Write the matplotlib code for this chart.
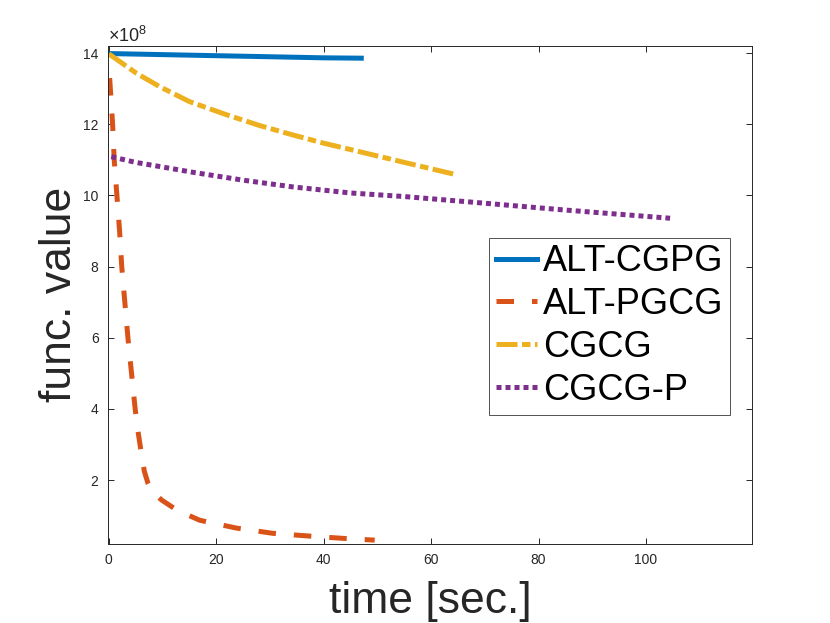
import matplotlib
matplotlib.use("Agg")
import matplotlib.pyplot as plt
from matplotlib.ticker import ScalarFormatter

plt.rcParams['font.family'] = ['Liberation Sans', 'DejaVu Sans']
plt.rcParams['mathtext.fontset'] = 'custom'
plt.rcParams['mathtext.rm'] = 'Liberation Sans'
plt.rcParams['mathtext.it'] = 'Liberation Sans:italic'

# data (time in sec., function value)
t_altcgpg = [0, 10, 20, 30, 40, 47]
v_altcgpg = [13.99e8, 13.96e8, 13.93e8, 13.90e8, 13.87e8, 13.86e8]

t_altpgcg = [0.15, 0.7, 1.0, 1.5, 2.0, 2.4, 3.55, 4.9, 5.5, 6.0, 6.6, 7.3, 8.0,
             9.8, 12.6, 16.9, 23.7, 30.6, 36.8, 43.6, 49.5]
v_altpgcg = [13.3e8, 12.0e8, 11.0e8, 10.0e8, 9.0e8, 8.0e8, 6.0e8, 4.0e8, 3.3e8,
             2.8e8, 2.25e8, 1.9e8, 1.70e8, 1.44e8, 1.16e8, 0.87e8, 0.65e8,
             0.50e8, 0.43e8, 0.36e8, 0.31e8]

t_cgcg = [0, 5.1, 9.45, 15, 21.9, 28, 34.3, 40, 46.7, 55, 64.8]
v_cgcg = [13.98e8, 13.44e8, 13.06e8, 12.64e8, 12.27e8, 11.97e8, 11.70e8,
          11.47e8, 11.23e8, 10.93e8, 10.58e8]

t_cgcgp = [0.45, 5, 10, 15.7, 25, 34.3, 45, 55, 67, 85, 104.5]
v_cgcgp = [11.09e8, 10.93e8, 10.80e8, 10.65e8, 10.43e8, 10.24e8, 10.07e8,
           9.97e8, 9.82e8, 9.59e8, 9.36e8]

labels = ['ALT-CGPG', 'ALT-PGCG', 'CGCG', 'CGCG-P']
x_ticks = [0, 20, 40, 60, 80, 100]
y_ticks = [2e8, 4e8, 6e8, 8e8, 10e8, 12e8, 14e8]


class Fixed8Formatter(ScalarFormatter):
    def _set_order_of_magnitude(self):
        self.orderOfMagnitude = 8

    def _set_format(self):
        self.format = '%d'


fig = plt.figure(figsize=(8.3, 6.23), dpi=100)
ax = fig.add_axes([0.1305, 0.1273, 0.7752, 0.7993])

lw = 3.6
ax.plot(t_altcgpg, v_altcgpg, color='#0072BD', lw=lw, linestyle='-', label=labels[0])
ax.plot(t_altpgcg, v_altpgcg, color='#D95319', lw=lw, linestyle=(0, (3.5, 3.6)), label=labels[1])
ax.plot(t_cgcg, v_cgcg, color='#EDB120', lw=lw, linestyle=(0, (4.2, 0.9, 1.7, 0.9)), label=labels[2])
ax.plot(t_cgcgp, v_cgcgp, color='#7E2F8E', lw=lw, linestyle=(0, (1.0, 0.8)), label=labels[3])

ax.set_xlim(-0.1, 119.7)
ax.set_ylim(0.21e8, 14.21e8)
ax.set_xticks(x_ticks)
ax.set_yticks(y_ticks)

fmt = Fixed8Formatter(useMathText=True)
ax.yaxis.set_major_formatter(fmt)
ax.yaxis.get_offset_text().set_fontsize(13)
ax.yaxis.get_offset_text().set_color('#262626')

ax.tick_params(direction='in', length=4.5, width=0.7, colors='#262626',
               labelsize=10, top=True, right=True, pad=7)
for s in ax.spines.values():
    s.set_color('#262626')
    s.set_linewidth(0.7)

ax.set_xlabel('time [sec.]', fontsize=32, color='#262626', labelpad=10)
ax.set_ylabel('func. value', fontsize=32, color='#262626', labelpad=2)

leg = ax.legend(loc='upper left', bbox_to_anchor=(0.5922, 0.6145), fontsize=26,
                frameon=True, fancybox=False, handlelength=1.15, handletextpad=0.15,
                labelspacing=0.22, borderpad=0.18, borderaxespad=0)
leg.get_frame().set_edgecolor('#262626')
leg.get_frame().set_linewidth(0.7)

fig.savefig('out.png', dpi=100)
